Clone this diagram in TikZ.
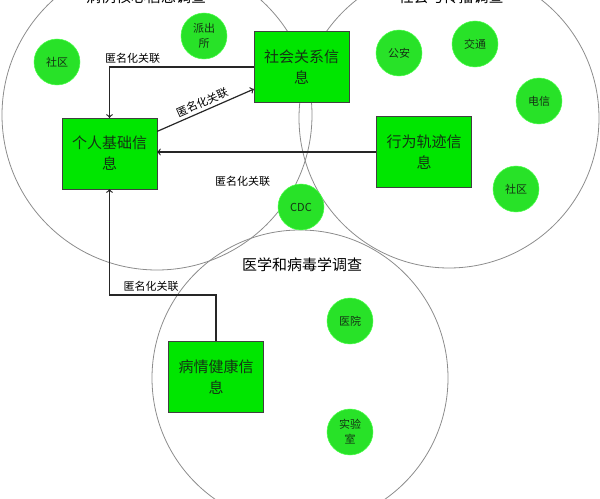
\documentclass[tikz,border=0pt]{standalone}
\usepackage{fontspec}
\setmainfont{Noto Sans CJK SC}
\usepackage{tikz}
\usetikzlibrary{arrows, calc}

\definecolor{boxgreen}{RGB}{0,230,0}
\definecolor{dotgreen}{RGB}{40,226,40}
\definecolor{inkgreen}{RGB}{20,50,20}

\begin{document}
\begin{tikzpicture}[x=0.75pt, y=-0.75pt,
        infobox/.style={draw=black!75, fill=boxgreen, minimum width=71pt, minimum height=53pt, align=center, text=inkgreen, font=\fontsize{11.25pt}{15.75pt}\selectfont},
        unit/.style={circle, fill=dotgreen, draw=green!70!white, minimum size=34.5pt, inner sep=0pt, align=center, text=inkgreen, font=\fontsize{8.25pt}{11.25pt}\selectfont},
        survey/.style={draw=black!45, line width=0.6pt},
        link/.style={->, draw=black!85, line width=0.9pt},
        tag/.style={font=\fontsize{8.25pt}{10pt}\selectfont, inner sep=2pt}]
        \useasboundingbox (0,0) rectangle (600,499);

        % three surveys
        \draw[survey] (157,115) circle (155);
        \draw[survey] (449,118) circle (150);
        \draw[survey] (300,378) circle (148);

        \node (t1) at (146,-3) {\fontsize{11.25pt}{13pt}\selectfont 病例核心信息调查};
        \node (t2) at (451,-3) {\fontsize{11.25pt}{13pt}\selectfont 社会与传播调查};
        \node (t3) at (302,265) {\fontsize{11.25pt}{13pt}\selectfont 医学和病毒学调查};

        % sources
        \node[unit] (sq1) at (57,62) {社区};
        \node[unit] (pcs) at (204,36) {派出\\所};
        \node[unit] (ga) at (399,53) {公安};
        \node[unit] (jt) at (475,44) {交通};
        \node[unit] (dx) at (539,101) {电信};
        \node[unit] (sq2) at (516,189) {社区};
        \node[unit] (cdc) at (301,207) {CDC};
        \node[unit] (yy) at (350,321) {医院};
        \node[unit] (sys) at (350,432) {实验\\室};

        % information
        \node[infobox] (person) at (109.5,153.5) {个人基础信\\息};
        \node[infobox] (social) at (301.5,67) {社会关系信\\息};
        \node[infobox] (track) at (424,152) {行为轨迹信\\息};
        \node[infobox] (health) at (216,377) {病情健康信\\息};

        \coordinate (bend) at (216,295);

        \draw[link] (social.west) -| node[tag, pos=0.42, above] (l1) {匿名化关联} (person.north);
        \draw[link] ($(person.north east)!0.19!(person.south east)$) -- node[tag, sloped, above] (l2) {匿名化关联} ($(social.north west)!0.81!(social.south west)$);
        \draw[link] (track.west) -- node[tag, pos=0.61, below=16pt] (l3) {匿名化关联} (track.west -| person.east);
        \draw[link] (health.north) -- (bend) -| node[tag, pos=0.305, above] (l4) {匿名化关联} (person.south);

\end{tikzpicture}
\end{document}
